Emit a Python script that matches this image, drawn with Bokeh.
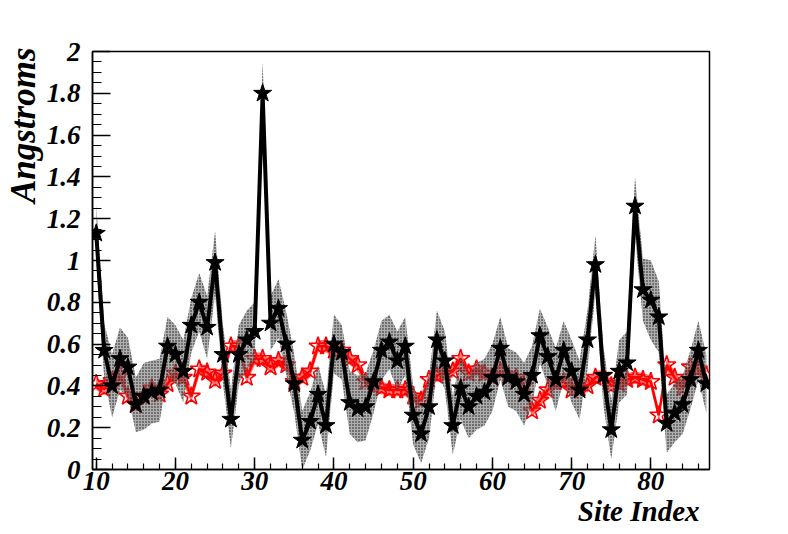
from bokeh.plotting import figure
from bokeh.models import ColumnDataSource, FixedTicker, Range1d, Title
from bokeh.embed import file_html
from bokeh.resources import INLINE

# ---------------- data ----------------
site = list(range(10, 88))

black_vals = [1.13, 0.57, 0.40, 0.53, 0.49, 0.31, 0.35, 0.37, 0.38, 0.59,
              0.55, 0.47, 0.69, 0.80, 0.68, 0.99, 0.55, 0.24, 0.55, 0.62,
              0.66, 1.80, 0.70, 0.77, 0.60, 0.41, 0.14, 0.23, 0.36, 0.21,
              0.60, 0.56, 0.32, 0.29, 0.30, 0.42, 0.57, 0.61, 0.52, 0.59,
              0.26, 0.17, 0.30, 0.62, 0.52, 0.21, 0.39, 0.30, 0.35, 0.37,
              0.44, 0.58, 0.44, 0.42, 0.36, 0.45, 0.64, 0.54, 0.43, 0.57,
              0.47, 0.38, 0.62, 0.98, 0.45, 0.19, 0.47, 0.51, 1.26, 0.86,
              0.81, 0.73, 0.22, 0.27, 0.31, 0.43, 0.57, 0.41]

black_err = [0.14, 0.13, 0.15, 0.15, 0.14, 0.13, 0.16, 0.15, 0.15, 0.14,
             0.14, 0.15, 0.13, 0.14, 0.15, 0.15, 0.14, 0.14, 0.14, 0.14,
             0.14, 0.15, 0.13, 0.14, 0.15, 0.14, 0.14, 0.14, 0.14, 0.15,
             0.14, 0.13, 0.15, 0.16, 0.16, 0.15, 0.14, 0.13, 0.14, 0.14,
             0.14, 0.14, 0.15, 0.14, 0.14, 0.14, 0.15, 0.15, 0.16, 0.16,
             0.16, 0.15, 0.14, 0.14, 0.15, 0.14, 0.13, 0.14, 0.15, 0.14,
             0.15, 0.14, 0.14, 0.14, 0.14, 0.14, 0.15, 0.15, 0.14, 0.15,
             0.19, 0.17, 0.14, 0.14, 0.14, 0.14, 0.14, 0.14]

red_vals = [0.41, 0.385, 0.425, 0.45, 0.35, 0.31, 0.35, 0.39, 0.36, 0.41,
            0.46, 0.44, 0.35, 0.48, 0.465, 0.425, 0.46, 0.59, 0.59, 0.44,
            0.53, 0.53, 0.49, 0.52, 0.50, 0.42, 0.44, 0.47, 0.59, 0.59,
            0.57, 0.57, 0.53, 0.50, 0.42, 0.40, 0.39, 0.38, 0.38, 0.38,
            0.35, 0.33, 0.43, 0.45, 0.46, 0.47, 0.53, 0.46, 0.48, 0.46,
            0.44, 0.47, 0.45, 0.44, 0.40, 0.28, 0.33, 0.38, 0.42, 0.42,
            0.38, 0.39, 0.40, 0.44, 0.45, 0.40, 0.41, 0.43, 0.44, 0.43,
            0.42, 0.26, 0.50, 0.44, 0.39, 0.49, 0.48, 0.45]

red_err = [0.03] * len(site)

x_ticks = [10, 20, 30, 40, 50, 60, 70, 80]
x_minor = list(range(10, 88, 2))
y_ticks = [0, 0.2, 0.4, 0.6, 0.8, 1.0, 1.2, 1.4, 1.6, 1.8, 2.0]
y_minor = [i * 0.05 for i in range(0, 41)]

x_title = "Site Index"
y_title = "Angstroms"

# ---------------- figure ----------------
p = figure(width=788, height=534, output_backend="svg", toolbar_location=None,
           x_range=Range1d(9.53, 87.4), y_range=Range1d(0, 2.0),
           min_border_left=92, min_border_right=79, min_border_top=51,
           min_border_bottom=65)
p.background_fill_color = "white"
p.border_fill_color = "white"
p.outline_line_color = "black"
p.outline_line_width = 1.5
p.xgrid.visible = False
p.ygrid.visible = False

FONT = "Liberation Serif"
for ax in (p.xaxis[0], p.yaxis[0]):
    ax.axis_line_width = 1.5
    ax.major_tick_line_width = 1.5
    ax.minor_tick_line_width = 1.2
    ax.major_tick_out = 0
    ax.minor_tick_out = 0
    ax.major_label_text_font = FONT
    ax.major_label_text_font_style = "bold italic"
    ax.major_label_text_font_size = "27px"
    ax.major_label_text_color = "black"

p.xaxis.ticker = FixedTicker(ticks=x_ticks, minor_ticks=x_minor)
p.yaxis.ticker = FixedTicker(ticks=y_ticks, minor_ticks=y_minor)
p.xaxis.major_tick_in = 12
p.xaxis.minor_tick_in = 6
p.yaxis.major_tick_in = 18
p.yaxis.minor_tick_in = 9
p.xaxis.major_label_standoff = 2
p.yaxis.major_label_standoff = 12
p.yaxis.major_label_overrides = {0: "0", 1: "1", 2: "2"}

# sources
src_b = ColumnDataSource(dict(
    x=site, y=black_vals,
    lo=[v - e for v, e in zip(black_vals, black_err)],
    hi=[v + e for v, e in zip(black_vals, black_err)]))
src_r = ColumnDataSource(dict(
    x=site, y=red_vals,
    lo=[v - e for v, e in zip(red_vals, red_err)],
    hi=[v + e for v, e in zip(red_vals, red_err)]))

# red series
p.varea(x="x", y1="lo", y2="hi", source=src_r, fill_color="red", fill_alpha=0.55)
p.line(x="x", y="y", source=src_r, line_color="red", line_width=2.5)
p.scatter(x="x", y="y", source=src_r, marker="star", size=19,
          fill_alpha=0, line_color="red", line_width=1.6)

# black band (dotted pattern)
p.varea(x="x", y1="lo", y2="hi", source=src_b, fill_color="#7a7a7a",
        fill_alpha=0.6, hatch_pattern="dot", hatch_color="black",
        hatch_scale=3, hatch_weight=2, hatch_alpha=0.9)

# black series
p.line(x="x", y="y", source=src_b, line_color="black", line_width=4)
p.scatter(x="x", y="y", source=src_b, marker="star", size=19,
          fill_color="black", line_color="black")

# axis titles (placed at the end of each axis, as in the reference)
p.add_layout(Title(text=x_title, align="right", offset=10, standoff=0,
                   text_font=FONT, text_font_style="bold italic",
                   text_font_size="29px", text_color="black"), "below")
p.add_layout(Title(text=y_title, align="right", offset=-4, standoff=1,
                   text_font=FONT, text_font_style="bold italic",
                   text_font_size="35px", text_color="black"), "left")

open("out.html", "w").write(file_html(p, INLINE))
